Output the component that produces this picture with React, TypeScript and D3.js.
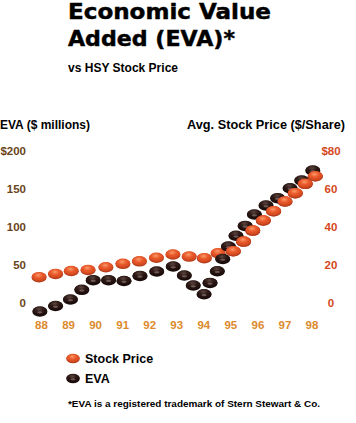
import React from "react";
import * as d3 from "d3";

const yearTicks = [88, 89, 90, 91, 92, 93, 94, 95, 96, 97, 98];
const evaTicks = [0, 50, 100, 150, 200];
const priceTicks = [0, 20, 40, 60, 80];

// Stock price (avg $/share) by decimal year
const priceYears = [87.91, 88.52, 89.1, 89.72, 90.38, 91.01, 91.62, 92.25, 92.86, 93.46, 94.02, 94.53, 95.09, 95.47, 95.81, 96.2, 96.58, 97.0, 97.38, 97.75, 98.12];
const priceValues = [13.9, 15.6, 17.1, 17.7, 19.1, 20.9, 22.2, 24.1, 25.8, 24.7, 23.9, 26.5, 27.5, 32.6, 38.4, 43.7, 48.6, 53.7, 58.1, 63.0, 67.0];

// EVA ($ millions) by decimal year
const evaYears = [87.94, 88.52, 89.07, 89.49, 89.91, 90.48, 91.05, 91.64, 92.26, 92.87, 93.28, 93.61, 94.01, 94.23, 94.5, 94.7, 94.91, 95.19, 95.53, 95.87, 96.3, 96.73, 97.19, 97.62, 98.03];
const evaValues = [-10.5, -3.3, 5.3, 18, 30.7, 30.7, 29.6, 36.4, 42.1, 48.7, 36.8, 23.7, 12.2, 27.2, 42.5, 58.6, 75, 89.1, 102.2, 117.1, 128.9, 138.6, 151.7, 161.8, 175];

const FONT = "'Liberation Sans', Arial, sans-serif";

export default function App() {
  const x = d3.scaleLinear().domain([88, 98]).range([41.5, 312]);
  const yL = d3.scaleLinear().domain([0, 200]).range([303, 151]);
  const yR = d3.scaleLinear().domain([0, 80]).range([303, 151]);

  const Orange = ({ cx, cy, s = 1 }: { cx: number; cy: number; s?: number }) => (
    <g>
      <ellipse cx={cx} cy={cy + 0.8} rx={7.5 * s} ry={5 * s} fill="#b43c1a" />
      <ellipse cx={cx} cy={cy} rx={7.3 * s} ry={4.7 * s} fill="url(#gOrange)" />
    </g>
  );
  const Dark = ({ cx, cy, s = 1 }: { cx: number; cy: number; s?: number }) => (
    <g>
      <ellipse cx={cx} cy={cy + 0.8} rx={7.5 * s} ry={5 * s} fill="#1a0c0a" />
      <ellipse cx={cx} cy={cy} rx={7.3 * s} ry={4.7 * s} fill="url(#gDark)" />
      <ellipse cx={cx} cy={cy + 1.3} rx={2.6 * s} ry={1.1 * s} fill="#8a7470" opacity={0.7} />
    </g>
  );

  return (
    <svg width={356} height={423} style={{ position: "absolute", left: 0, top: 0, background: "#fff" }}>
      <defs>
        <radialGradient id="gOrange" cx="45%" cy="35%" r="65%">
          <stop offset="0%" stopColor="#f89a6a" />
          <stop offset="45%" stopColor="#ea5a2b" />
          <stop offset="100%" stopColor="#cc441d" />
        </radialGradient>
        <radialGradient id="gDark" cx="45%" cy="30%" r="65%">
          <stop offset="0%" stopColor="#5e4640" />
          <stop offset="45%" stopColor="#2e1a17" />
          <stop offset="100%" stopColor="#1c0d0b" />
        </radialGradient>
      </defs>

      {/* Title */}
      <g fontFamily="'DejaVu Sans', sans-serif" fontWeight="bold" fill="#000" stroke="#000" strokeWidth={0.45}>
        <text x={68} y={19} fontSize={21} textLength={203} lengthAdjust="spacingAndGlyphs">Economic Value</text>
        <text x={68} y={46} fontSize={21} textLength={167} lengthAdjust="spacingAndGlyphs">Added (EVA)*</text>
      </g>
      <text x={68} y={72} fontFamily={FONT} fontWeight="bold" fontSize={12} fill="#000" textLength={110} lengthAdjust="spacingAndGlyphs">vs HSY Stock Price</text>

      {/* Axis titles */}
      <text x={0} y={129} fontFamily={FONT} fontWeight="bold" fontSize={12.2} fill="#000" textLength={90} lengthAdjust="spacingAndGlyphs">EVA ($ millions)</text>
      <text x={187} y={129} fontFamily={FONT} fontWeight="bold" fontSize={12.2} fill="#000" textLength={158} lengthAdjust="spacingAndGlyphs">Avg. Stock Price ($/Share)</text>

      {/* Left ticks */}
      {evaTicks.map((t) => (
        <text key={"l" + t} x={26} y={yL(t)} dy="0.36em" textAnchor="end" fontFamily={FONT} fontWeight="bold" fontSize={11.5} fill="#6a4520">
          {t === 200 ? "$200" : t}
        </text>
      ))}
      {/* Right ticks */}
      {priceTicks.map((t) => (
        <text key={"r" + t} x={331} y={yR(t)} dy="0.36em" textAnchor="middle" fontFamily={FONT} fontWeight="bold" fontSize={11.5} fill="#d4481c">
          {t === 80 ? "$80" : t}
        </text>
      ))}
      {/* Year ticks */}
      {yearTicks.map((t) => (
        <text key={"x" + t} x={x(t)} y={325} dy="0.36em" textAnchor="middle" fontFamily={FONT} fontWeight="bold" fontSize={11.5} fill="#dc8a2c">
          {t}
        </text>
      ))}

      {/* Stock price markers */}
      {priceYears.map((yr, i) => (
        <Orange key={"p" + i} cx={x(yr)} cy={yR(priceValues[i])} />
      ))}
      {/* EVA markers */}
      {evaYears.map((yr, i) => (
        <Dark key={"e" + i} cx={x(yr)} cy={yL(evaValues[i])} />
      ))}
      {/* Orange markers over EVA in the steep part */}
      {priceYears.map((yr, i) =>
        yr > 95 ? <Orange key={"p2" + i} cx={x(yr)} cy={yR(priceValues[i])} /> : null
      )}

      {/* Legend */}
      <Orange cx={73} cy={358} s={0.9} />
      <text x={85} y={363} fontFamily={FONT} fontWeight="bold" fontSize={12.5} fill="#000">Stock Price</text>
      <Dark cx={73} cy={378} s={0.9} />
      <text x={85} y={383} fontFamily={FONT} fontWeight="bold" fontSize={12.5} fill="#000">EVA</text>

      <text x={68} y={407} fontFamily={FONT} fontWeight="bold" fontSize={9.8} fill="#000" textLength={252} lengthAdjust="spacingAndGlyphs">*EVA is a registered trademark of Stern Stewart &amp; Co.</text>
    </svg>
  );
}
